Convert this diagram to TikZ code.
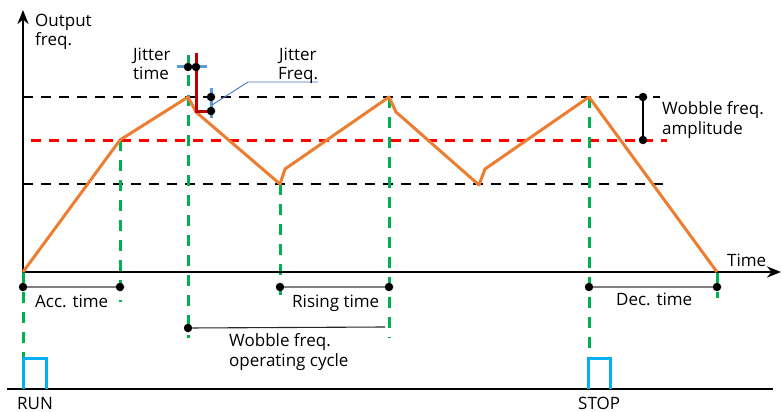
\documentclass[tikz,border=0pt]{standalone}
\usepackage{fontspec}
\setmainfont{Open Sans}
\usetikzlibrary{arrows.meta}
\definecolor{worange}{HTML}{ED7D31}
\definecolor{wgreen}{HTML}{00B050}
\definecolor{wred}{HTML}{FF0000}
\definecolor{jred}{HTML}{C00000}
\definecolor{jblue}{HTML}{5B9BD5}
\definecolor{lblue}{HTML}{4472C4}
\definecolor{pblue}{HTML}{00B0F0}
\definecolor{dgrey}{HTML}{7F7F7F}
\begin{document}
\begin{tikzpicture}[x=1pt,y=-1pt,
  lbl/.style={font=\fontsize{17}{19.5}\selectfont, inner sep=0pt, align=left, anchor=base west},
  axisline/.style={line width=2.8pt, -{Stealth[length=14pt,width=11pt]}},
  refline/.style={line width=2.4pt, dash pattern=on 10pt off 8pt},
  gline/.style={wgreen, line width=3pt, dash pattern=on 11pt off 9pt},
  dimline/.style={dgrey, line width=1.8pt},
  dotnode/.style={circle, fill=black, inner sep=0pt, minimum size=8.5pt},
  wave/.style={worange, line width=3pt, line join=round},
  pulse/.style={pblue, line width=3pt},
  jitter/.style={jblue, line width=3pt}]
\useasboundingbox (0,0) rectangle (782,412);
% key coordinates
\coordinate (O) at (23,272);
\coordinate (ytop) at (23,10);
\coordinate (xend) at (781,272);
\coordinate (knee) at (120,140);
\coordinate (p1) at (188,97);
\coordinate (j1) at (196,112);
\coordinate (t1) at (280,184);
\coordinate (k1) at (285,169);
\coordinate (p2) at (389,97);
\coordinate (j2) at (396,112);
\coordinate (t2) at (479,185);
\coordinate (k2) at (485,169);
\coordinate (p3) at (589,97);
\coordinate (e) at (717,272);
% reference lines
\draw[refline] (23,97) -- (660,97);
\draw[refline] (23,184) -- (668,184);
\draw[refline, wred, line width=3pt] (31,140) -- (667,140);
% green dashed
\draw[gline] (O) -- (23,357);
\draw[gline] (knee) -- (120,302);
\draw[gline] (188,55) -- (188,338);
\draw[gline] (t1) -- (280,302);
\draw[gline] (p2) -- (389,338);
\draw[gline] (p3) -- (589,358);
\draw[gline] (e) -- (717,298);
% axes
\draw[axisline] (O) -- (ytop);
\draw[axisline] (O) -- (xend);
% wave
\draw[wave] (O) -- (knee) -- (p1) -- (j1) -- (t1) -- (k1) -- (p2) -- (j2) -- (t2) -- (k2) -- (p3) -- (e);
% jitter
\draw[jred, line width=3pt] (196,53) -- (196,111) -- (210,111);
\draw[jitter] (177,67) -- (207,67);
\draw[jitter] (211,88) -- (211,118);
\node[dotnode] (jt1) at (188,67) {};
\node[dotnode] (jt2) at (196,67) {};
\node[dotnode] (jf1) at (211,97) {};
\node[dotnode] (jf2) at (211,111) {};
\coordinate (lead1) at (248,82);
\coordinate (lead2) at (318,82);
\draw[lblue, line width=0.9pt] (212,105) -- (lead1) -- (lead2);
% amplitude
\node[dotnode] (a1) at (643,97) {};
\node[dotnode] (a2) at (643,140) {};
\draw[line width=1.8pt] (a1) -- (a2);
% dimension lines
\node[dotnode] (acc1) at (23,287) {};
\node[dotnode] (acc2) at (120,287) {};
\draw[dimline] (acc1) -- (acc2);
\node[dotnode] (r1) at (280,287) {};
\node[dotnode] (r2) at (389,287) {};
\draw[dimline] (r1) -- (r2);
\node[dotnode] (d1) at (589,287) {};
\node[dotnode] (d2) at (717,287) {};
\draw[dimline] (d1) -- (d2);
\node[dotnode] (w1) at (188,328) {};
\coordinate (w2) at (385,327);
\draw[line width=1.1pt, black!85] (w1) -- (w2);
% bottom signal
\draw[line width=2.8pt] (7,389) -- (773,389);
\draw[pulse] (23,389) -- (23,358) -- (46,358) -- (46,389);
\draw[pulse] (588,389) -- (588,358) -- (610,358) -- (610,389);
% labels
\node[lbl] (yl) at (35,46) {Output\\freq.};
\node[lbl] (jtl) at (133,80) {Jitter\\time};
\node[lbl] (jfl) at (278,80) {\hspace{1pt}Jitter\\Freq.};
\node[lbl] (al) at (662,134) {Wobble freq.\\amplitude};
\node[lbl] (tl) at (727,266) {Time};
\node[lbl] (accl) at (35,307) {Acc. time};
\node[lbl] (rl) at (292,307) {Rising time};
\node[lbl] (dl) at (616,305) {Dec. time};
\node[lbl] (wl) at (229,366) {Wobble freq.\\operating cycle};
\node[lbl] (run) at (17,409) {RUN};
\node[lbl] (stop) at (578,409) {STOP};
\end{tikzpicture}
\end{document}
